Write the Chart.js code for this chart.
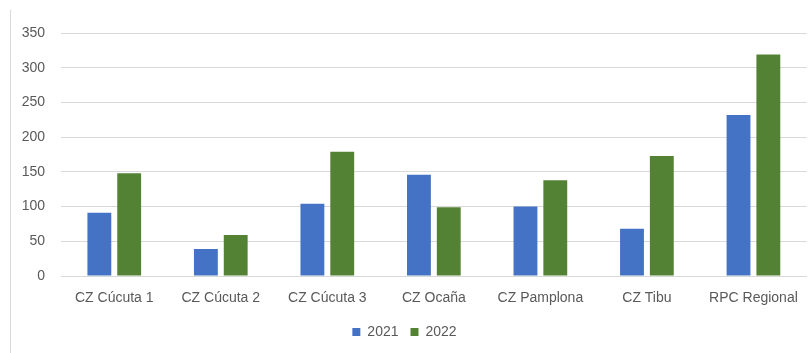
<!DOCTYPE html>
<html>
<head>
<meta charset="utf-8">
<script src="https://cdn.jsdelivr.net/npm/chart.js@4"></script>
<style>
  html, body { margin: 0; padding: 0; background: #fff; }
  #wrap { position: relative; width: 812px; height: 353px; }
  #edge { position: absolute; left: 10px; top: 10px; width: 1px; height: 343px; background: #d9d9d9; }
</style>
</head>
<body>
<div id="wrap">
  <div id="edge"></div>
  <canvas id="myChart" width="812" height="353"></canvas>
</div>
<script>
// data
var categories = ['CZ Cúcuta 1', 'CZ Cúcuta 2', 'CZ Cúcuta 3', 'CZ Ocaña', 'CZ Pamplona', 'CZ Tibu', 'RPC Regional'];
var values2021 = [91, 39, 104, 146, 100, 68, 232];
var values2022 = [148, 59, 179, 99, 138, 173, 319];
var seriesNames = ['2021', '2022'];

var textColor = '#595959';
var gridColor = '#d9d9d9';
var font = { family: 'Liberation Sans', size: 14 };

var ctx = document.getElementById('myChart').getContext('2d');
var chart = new Chart(ctx, {
  type: 'bar',
  data: {
    labels: categories,
    datasets: [{
      label: seriesNames[0],
      data: values2021,
      backgroundColor: '#4472C4',
      categoryPercentage: 0.56,
      barPercentage: 0.8
    }, {
      label: seriesNames[1],
      data: values2022,
      backgroundColor: '#548235',
      categoryPercentage: 0.56,
      barPercentage: 0.8
    }]
  },
  options: {
    responsive: false,
    animation: false,
    layout: { padding: { left: 0, right: 3, top: 33, bottom: 4 } },
    plugins: {
      tooltip: { enabled: false },
      legend: {
        position: 'bottom',
        labels: {
          boxWidth: 8,
          boxHeight: 8,
          color: textColor,
          font: font,
          padding: 12
        }
      }
    },
    scales: {
      x: {
        grid: { display: false, drawTicks: false },
        border: { color: gridColor },
        ticks: { color: textColor, font: font, padding: 14, maxRotation: 0 },
        afterFit: function(scale) { scale.height = 37; }
      },
      y: {
        min: 0,
        max: 350,
        ticks: { stepSize: 50, color: textColor, font: font, padding: 16 },
        grid: { color: gridColor, drawTicks: false },
        border: { display: false },
        afterFit: function(scale) { scale.width = 61; }
      }
    }
  }
});
</script>
</body>
</html>
